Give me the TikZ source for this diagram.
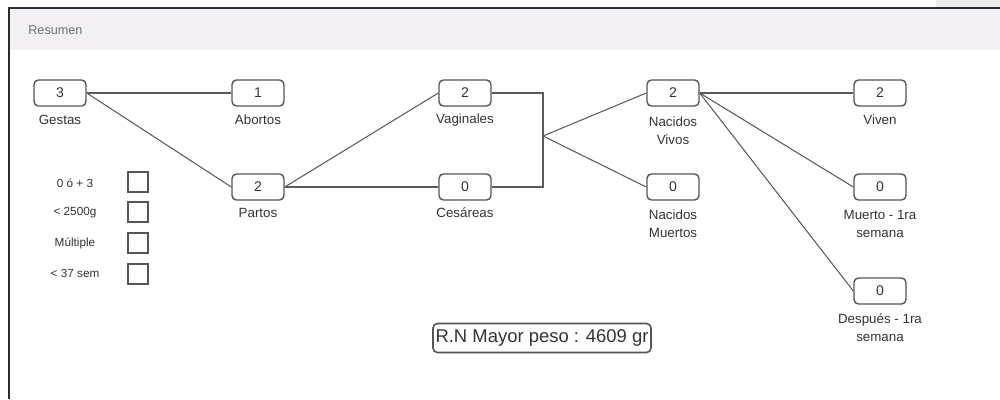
\documentclass[tikz,border=0pt]{standalone}
\usepackage{fontspec}
\setmainfont{Liberation Sans}
\usepackage{xcolor}
\usepackage{tikz}
\usetikzlibrary{calc}
\definecolor{frame}{HTML}{2B2B2B}
\definecolor{head}{HTML}{F3F1F5}
\definecolor{corner}{HTML}{EDEDED}
\definecolor{edge}{HTML}{5A5A5A}
\definecolor{boxline}{HTML}{555555}
\definecolor{txt}{HTML}{333333}
\definecolor{muted}{HTML}{6E6E6E}
\tikzset{
  numbox/.style={draw=boxline, line width=0.8pt, rounded corners=2.5pt, fill=white,
    minimum width=1.04cm, minimum height=0.52cm, inner sep=0pt,
    text=txt, font=\fontsize{8}{9}\selectfont},
  lab/.style={text=txt, font=\fontsize{7.6}{10.2}\selectfont, align=center, inner sep=0pt},
  chk/.style={draw=boxline, line width=0.7pt, minimum size=0.4cm, inner sep=0pt},
  chklab/.style={text=txt, font=\fontsize{6.7}{8}\selectfont, inner sep=0pt},
  link/.style={draw=edge, line width=0.6pt},
  big/.style={draw=boxline, line width=0.9pt, rounded corners=2.5pt,
    minimum width=4.36cm, minimum height=0.58cm, inner sep=0.5pt,
    text=txt, font=\fontsize{10.5}{12}\selectfont}
}
\begin{document}
\begin{tikzpicture}[x=0.02cm,y=-0.02cm]
  \useasboundingbox (0,0) rectangle (1000,399);
  % frame and header
  \fill[corner] (936,0) rectangle (1000,8);
  \fill[head] (9,9) rectangle (1000,50);
  \draw[frame, line width=1.2pt] (9,399) -- (9,8) -- (1000,8);
  \node[anchor=west, text=muted, font=\fontsize{7.2}{8}\selectfont, inner sep=0pt] (titulo) at (28,30) {Resumen};

  % boxes
  \node[numbox] (gestas) at (60,93) {3};
  \node[lab] (gestasL) at (60,120) {Gestas};
  \node[numbox] (abortos) at (258,93) {1};
  \node[lab] (abortosL) at (258,120) {Abortos};
  \node[numbox] (partos) at (258,187) {2};
  \node[lab] (partosL) at (258,213) {Partos};
  \node[numbox] (vaginales) at (465,93) {2};
  \node[lab] (vaginalesL) at (465,120) {Vaginales};
  \node[numbox] (cesareas) at (465,187) {0};
  \node[lab] (cesareasL) at (465,213) {Cesáreas};
  \node[numbox] (vivos) at (673,93) {2};
  \node[lab] (vivosL) at (673,131) {Nacidos\\Vivos};
  \node[numbox] (muertos) at (673,187) {0};
  \node[lab] (muertosL) at (673,224) {Nacidos\\Muertos};
  \node[numbox] (viven) at (880,93) {2};
  \node[lab] (vivenL) at (880,120) {Viven};
  \node[numbox] (muertoSem) at (880,187) {0};
  \node[lab] (muertoSemL) at (880,224) {Muerto - 1ra\\semana};
  \node[numbox] (despues) at (880,291) {0};
  \node[lab] (despuesL) at (880,328) {Después - 1ra\\semana};

  % connectors
  \coordinate (J) at (543,136);
  \draw[link] (gestas.east) -- (abortos.west);
  \draw[link] (gestas.east) -- (partos.west);
  \draw[link] (partos.east) -- (vaginales.west);
  \draw[link] (partos.east) -- (cesareas.west);
  \draw[link] (vaginales.east) -| (J) |- (cesareas.east);
  \draw[link] (J) -- (vivos.west);
  \draw[link] (J) -- (muertos.west);
  \draw[link] (vivos.east) -- (viven.west);
  \draw[link] (vivos.east) -- (muertoSem.west);
  \draw[link] (vivos.east) -- (despues.west);

  % check list
  \node[chklab] (c1L) at (75,183) {0 ó + 3};
  \node[chk] (c1) at (138,182) {};
  \node[chklab] (c2L) at (75,213) {< 2500g};
  \node[chk] (c2) at (138,212) {};
  \node[chklab] (c3L) at (75,243) {Múltiple};
  \node[chk] (c3) at (138,243) {};
  \node[chklab] (c4L) at (75,273) {< 37 sem};
  \node[chk] (c4) at (138,274) {};

  % peso
  \node[big] (peso) at (542,338) {R.N Mayor peso : 4609 gr};
\end{tikzpicture}
\end{document}
